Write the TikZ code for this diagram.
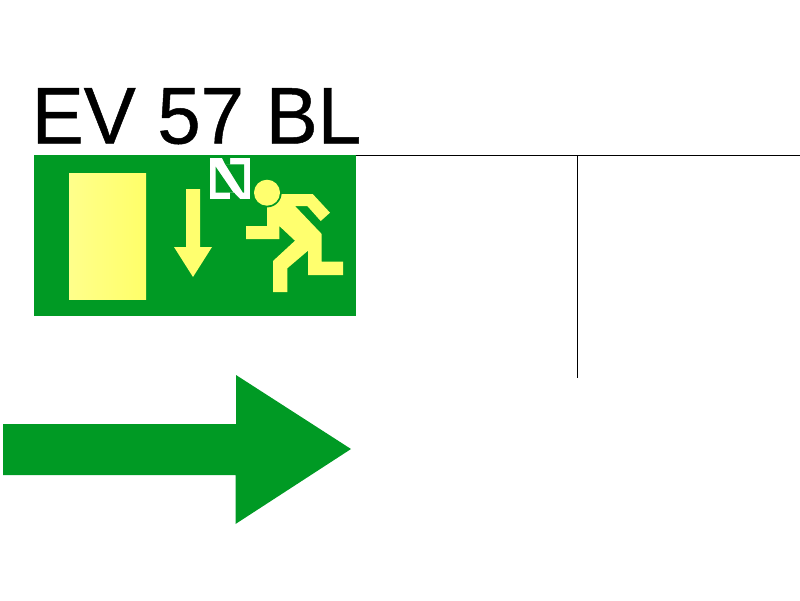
\documentclass[tikz,border=0pt]{standalone}
\usepackage{fontspec}
\usepackage{graphicx}
\setmainfont{Liberation Sans}
\newfontfamily\titlefont[FakeBold=0.6]{Liberation Sans}
\definecolor{signgreen}{HTML}{009A24}
\definecolor{signyellow}{HTML}{FFFF6E}
\tikzset{
  sign/.style={fill=signgreen,draw=none},
  glow/.style={fill=signyellow,draw=none},
  hairline/.style={draw=black,line width=0.8pt},
  marker/.style={fill=white,draw=none}
}
\begin{document}
\begin{tikzpicture}[x=1pt,y=-1pt]
\useasboundingbox (0,0) rectangle (800,600);
% title
\node[anchor=base west,inner sep=0pt,font=\titlefont\fontsize{78}{80}\selectfont] (title) at (31.5,143.5) {\scalebox{1}[1.03]{EV 57 BL}};
% rules
\coordinate (ruleL) at (356,155.5);
\coordinate (ruleR) at (800,155.5);
\coordinate (ruleT) at (577.5,155.5);
\coordinate (ruleB) at (577.5,377.5);
\draw[hairline] (ruleL) -- (ruleR);
\draw[hairline] (ruleT) -- (ruleB);
% sign panel
\fill[sign] (34,155) rectangle (356,316);
% door
\shade[left color=signyellow!80!white,right color=signyellow!95!yellow] (69,173) rectangle (146,299);
% down arrow
\fill[glow] (186,189) -- (200,189) -- (200,247) -- (212,247) -- (193,277) -- (174,247) -- (186,247) -- cycle;
% marker
\fill[marker] (210,158) rectangle (250,199);
\fill[sign] (215.5,166.5) -- (215.5,192.7) -- (233.5,192.7) -- cycle;
\fill[sign] (225.3,164.3) -- (244,164.3) -- (244,192.7) -- (243,192.7) -- cycle;
\fill[sign] (222,158) -- (230,158) -- (230,164.5) -- (225.3,164.5) -- cycle;
\fill[sign] (230,192.7) -- (234,192.7) -- (240,199) -- (230,199) -- cycle;
% runner
\fill[glow] (267,194) -- (312.7,194) -- (330,212.7) -- (320.7,221) -- (307.3,206) -- (295,206)
  -- (321.7,234) -- (321.7,261.7) -- (343,261.7) -- (343,275) -- (308,275) -- (308,250.7)
  -- (287.3,268.3) -- (287.3,292) -- (273,292) -- (273,261) -- (295,240.7) -- (279.3,226)
  -- (279.3,239) -- (246,239) -- (246,226) -- (267,226) -- cycle;
\fill[sign] (267,192.7) circle[radius=14.7];
\fill[glow] (267,192.7) circle[radius=13];
% big arrow
\fill[sign] (3,424) -- (236,424) -- (236,375) -- (351,449) -- (235.5,524) -- (235.5,475) -- (3,475) -- cycle;
\end{tikzpicture}
\end{document}
